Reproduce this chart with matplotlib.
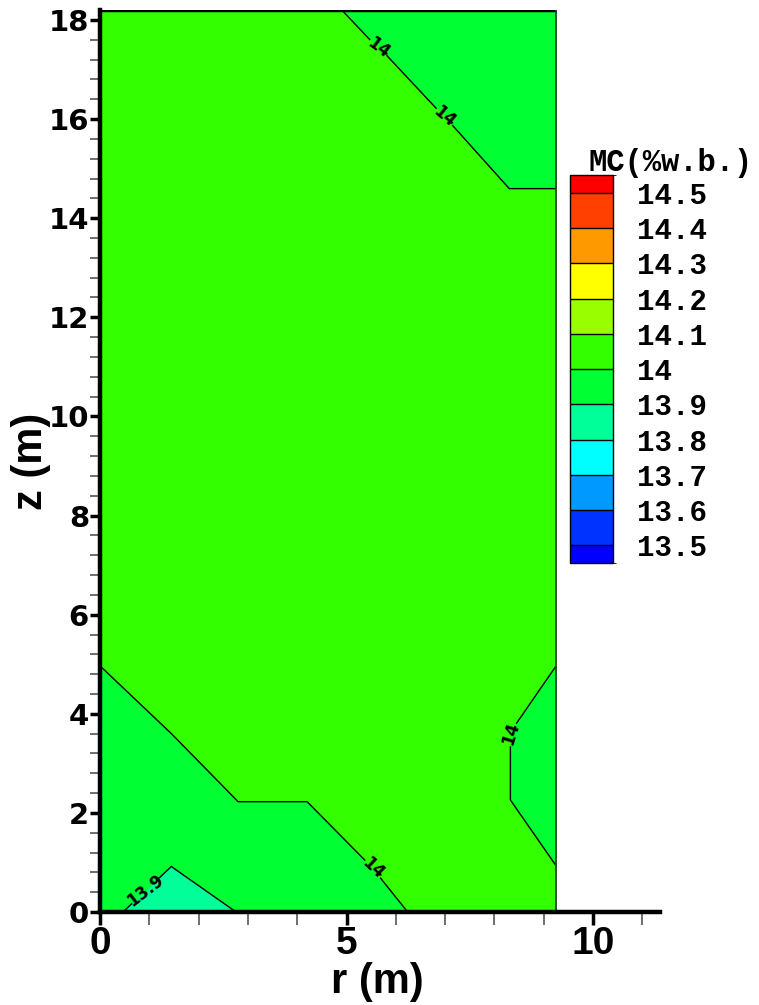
import matplotlib
matplotlib.use("Agg")
import matplotlib.pyplot as plt
import numpy as np
from matplotlib.colors import ListedColormap, BoundaryNorm
from matplotlib.ticker import MultipleLocator
import matplotlib.colorbar as mcolorbar

# grid nodes (m)
r_nodes = [0.0, 1.45, 2.8, 4.2, 5.55, 6.93, 8.3, 9.25]
z_nodes = [0.0, 0.9, 2.26, 3.63, 5.0, 6.36, 7.73, 9.1, 10.46, 11.83,
           13.2, 14.57, 15.92, 17.3, 18.2]

# moisture content (%w.b.), one row per z node
mc = [
    [13.932, 13.832, 13.902, 13.96, 13.98, 14.02, 14.05, 14.05],
    [13.96, 13.899, 13.96, 13.96, 14.001, 14.05, 14.05, 14.001],
    [13.96, 13.96, 14.001, 14.001, 14.05, 14.05, 14.001, 13.96],
    [13.96, 14.001, 14.05, 14.05, 14.05, 14.05, 14.001, 13.96],
    [14.001, 14.05, 14.05, 14.05, 14.05, 14.05, 14.05, 14.001],
    [14.04, 14.05, 14.05, 14.06, 14.05, 14.05, 14.05, 14.04],
    [14.05, 14.05, 14.06, 14.06, 14.06, 14.05, 14.05, 14.05],
    [14.05, 14.06, 14.06, 14.06, 14.06, 14.06, 14.05, 14.05],
    [14.05, 14.06, 14.06, 14.06, 14.06, 14.06, 14.05, 14.05],
    [14.05, 14.05, 14.06, 14.06, 14.06, 14.05, 14.05, 14.05],
    [14.05, 14.05, 14.05, 14.05, 14.05, 14.05, 14.05, 14.04],
    [14.05, 14.05, 14.05, 14.05, 14.05, 14.05, 14.001, 14.001],
    [14.05, 14.05, 14.05, 14.05, 14.05, 14.0074, 13.95, 13.95],
    [14.05, 14.05, 14.05, 14.05, 14.011, 13.95, 13.95, 13.95],
    [14.05, 14.05, 14.05, 14.037, 13.966, 13.95, 13.95, 13.95],
]

levels = [13.5, 13.6, 13.7, 13.8, 13.9, 14.0, 14.1, 14.2, 14.3, 14.4, 14.5]
level_labels = ["13.5", "13.6", "13.7", "13.8", "13.9", "14",
                "14.1", "14.2", "14.3", "14.4", "14.5"]
band_colors = ["#0000ff", "#0033ff", "#0099ff", "#00ffff", "#00ff99", "#00ff33",
               "#33ff00", "#99ff00", "#ffff00", "#ff9900", "#ff4000", "#ff0000"]
labelled_levels = [13.9, 14.0]
labelled_fmt = {13.9: "13.9", 14.0: "14"}

R, Z = np.meshgrid(r_nodes, z_nodes)
V = np.array(mc)

fig = plt.figure(figsize=(7.59, 10.05), dpi=100)
ax = fig.add_axes([0.1318, 0.0925, 0.7373, 0.8975])

bounds = [13.0] + levels + [15.0]
ax.contourf(R, Z, V, levels=bounds, colors=band_colors)
other_levels = [lv for lv in levels if lv not in labelled_levels]
ax.contour(R, Z, V, levels=other_levels, colors="k", linewidths=1.0)
cs = ax.contour(R, Z, V, levels=labelled_levels, colors="k", linewidths=1.0)
ax.clabel(cs, fmt=labelled_fmt, fontsize=12, inline=True, inline_spacing=2,
          manual=[(5.56, 17.3), (6.92, 15.95), (8.32, 3.6), (5.56, 0.9), (1.0, 0.3)])
for t in cs.labelTexts:
    t.set_fontweight("bold")

# domain border (top and right)
rmax, zmax = r_nodes[-1], z_nodes[-1]
ax.plot([0, rmax], [zmax, zmax], color="k", lw=2.5, solid_capstyle="butt")
ax.plot([rmax, rmax], [0, zmax], color="#333333", lw=1.2)

ax.set_xlim(0, 11.35)
ax.set_ylim(0, 18.2)

for s in ["top", "right"]:
    ax.spines[s].set_visible(False)
for s in ["left", "bottom"]:
    ax.spines[s].set_linewidth(3.2)
    ax.spines[s].set_color("k")

ax.xaxis.set_major_locator(MultipleLocator(5))
ax.xaxis.set_minor_locator(MultipleLocator(1))
ax.yaxis.set_major_locator(MultipleLocator(2))
ax.yaxis.set_minor_locator(MultipleLocator(0.4))
ax.tick_params(axis="both", which="major", direction="out", width=2.5, color="k")
ax.tick_params(axis="x", which="major", length=9, pad=1)
ax.tick_params(axis="y", which="major", length=7, pad=1)
ax.tick_params(axis="both", which="minor", direction="out", width=1.2,
               color="#555555")
ax.tick_params(axis="x", which="minor", length=9)
ax.tick_params(axis="y", which="minor", length=7)

for lab in ax.get_xticklabels():
    lab.set_fontfamily("Liberation Sans")
    lab.set_fontweight("bold")
    lab.set_fontsize(28)
for lab in ax.get_yticklabels():
    lab.set_fontfamily("DejaVu Sans")
    lab.set_fontweight("bold")
    lab.set_fontsize(21)

ax.set_xlabel("r (m)", fontsize=30, fontweight="bold", family="Liberation Sans")
ax.set_ylabel("z (m)", fontsize=30, fontweight="bold", family="Liberation Sans")
ax.xaxis.set_label_coords(0.495, -0.055)
ax.yaxis.set_label_coords(-0.088, 0.5)

# legend bar
cax = fig.add_axes([0.751, 0.4398, 0.0567, 0.386])
cb_bounds = [13.45] + levels + [14.55]
cmap = ListedColormap(band_colors)
norm = BoundaryNorm(cb_bounds, cmap.N)
cb = mcolorbar.ColorbarBase(cax, cmap=cmap, norm=norm, boundaries=cb_bounds,
                            spacing="proportional", ticks=levels, drawedges=True)
cb.dividers.set_color("k")
cb.dividers.set_linewidth(1.0)
cb.outline.set_linewidth(1.0)
cb.ax.tick_params(length=0, pad=17)
cb.ax.set_yticklabels(level_labels, fontsize=21, fontweight="bold",
                      family="Liberation Mono")
fig.text(0.884, 0.838, "MC(%w.b.)", fontsize=22, fontweight="bold",
         family="Liberation Mono", ha="center", va="center")

fig.savefig("out.png", dpi=100)
